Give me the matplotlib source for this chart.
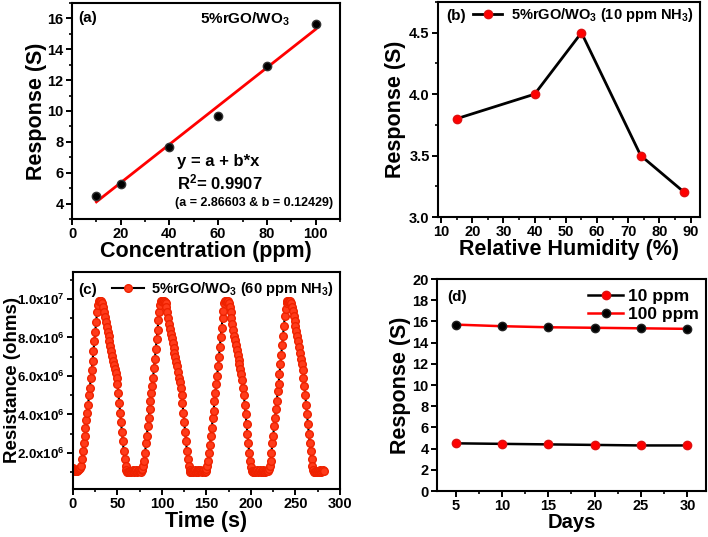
import numpy as np
import matplotlib
matplotlib.use('Agg')
import matplotlib.pyplot as plt
from matplotlib.ticker import MultipleLocator, FixedLocator, FixedFormatter

plt.rcParams['font.family'] = ['Liberation Sans', 'DejaVu Sans']
plt.rcParams['font.weight'] = 'bold'
plt.rcParams['axes.labelweight'] = 'bold'
plt.rcParams['mathtext.fontset'] = 'custom'
plt.rcParams['mathtext.rm'] = 'Liberation Sans:bold'
plt.rcParams['mathtext.it'] = 'Liberation Sans:bold'
plt.rcParams['mathtext.bf'] = 'Liberation Sans:bold'
plt.rcParams['mathtext.default'] = 'bf'

# (a) response vs concentration
conc = [10, 20, 40, 60, 80, 100]
resp_conc = [4.5, 5.3, 7.65, 9.7, 12.9, 15.65]
fit_a, fit_b = 2.86603, 0.12429

# (b) response vs relative humidity
rh = [15, 40, 55, 74, 88]
resp_rh = [3.8, 4.0, 4.5, 3.5, 3.2]

# (c) resistance transient, one sample per second (x1e6 ohms)
resist = [
    1.2, 1.1, 1.05, 1.05, 1.1, 1.05, 1.1, 1.15, 1.2, 1.35,
    1.7, 2.1, 2.5, 2.9, 3.3, 3.7, 4.1, 4.5, 5.0, 5.4,
    5.9, 6.3, 6.8, 7.3, 7.8, 8.3, 8.8, 9.3, 9.7, 9.9,
    9.9, 9.85, 9.9, 9.8, 9.6, 9.3, 9.05, 8.8, 8.55, 8.3,
    8.05, 7.8, 7.55, 7.3, 7.05, 6.8, 6.55, 6.35, 6.15, 5.9,
    5.6, 5.1, 4.6, 4.1, 3.6, 3.1, 2.6, 2.1, 1.7, 1.35,
    1.1, 1.0, 1.0, 1.0, 1.05, 1.0, 1.05, 1.1, 1.05, 1.0,
    1.05, 1.1, 1.0, 1.05, 1.1, 1.05, 1.0, 1.1, 1.15, 1.3,
    1.6, 2.0, 2.5, 2.9, 3.4, 3.8, 4.3, 4.7, 5.1, 5.5,
    5.9, 6.4, 6.9, 7.4, 7.9, 8.4, 8.9, 9.3, 9.7, 9.9,
    9.9, 9.85, 9.9, 9.85, 9.8, 9.6, 9.3, 9.0, 8.7, 8.45,
    8.2, 7.95, 7.7, 7.45, 7.2, 7.0, 6.75, 6.5, 6.2, 5.9,
    5.7, 5.4, 5.0, 4.6, 4.1, 3.6, 3.1, 2.6, 2.1, 1.7,
    1.35, 1.1, 1.0, 1.0, 1.05, 1.0, 1.05, 1.1, 1.0, 1.05,
    1.1, 1.0, 1.05, 1.1, 1.05, 1.0, 1.05, 1.1, 1.0, 1.05,
    1.15, 1.3, 1.6,
    2.0, 2.4, 2.9, 3.3, 3.8, 4.2, 4.7, 5.1, 5.6, 6.0,
    6.5, 7.0, 7.5, 8.0, 8.5, 9.0, 9.4, 9.8,
    9.9, 9.9, 9.85, 9.9, 9.8, 9.6,
    9.3, 9.0, 8.7, 8.4, 8.1, 7.85, 7.6, 7.35, 7.1, 6.85,
    6.6, 6.35, 6.1, 5.8, 5.4, 5.0, 4.5, 4.0, 3.5, 3.0,
    2.5, 2.0, 1.6, 1.25, 1.05, 1.0, 1.0,
    1.05, 1.0, 1.05, 1.1, 1.0, 1.05, 1.1, 1.0, 1.05, 1.0,
    1.1, 1.05, 1.0, 1.05, 1.1, 1.05, 1.15, 1.3,
    1.6, 2.0, 2.5, 2.9, 3.4, 3.8, 4.3, 4.7, 5.2, 5.6,
    6.1, 6.6, 7.1, 7.6, 8.1, 8.6, 9.1, 9.5, 9.8,
    9.9, 9.9, 9.85, 9.9, 9.8, 9.6,
    9.35, 9.1, 8.85, 8.6, 8.35, 8.1, 7.8, 7.5, 7.2, 6.9,
    6.6, 6.3, 5.9, 5.5, 5.0, 4.5, 4.0, 3.5, 3.0, 2.5,
    2.1, 1.7, 1.35, 1.1, 1.0, 1.0, 1.05,
    1.0, 1.05, 1.0, 1.1, 1.05, 1.0, 1.05, 1.1, 1.05,
]
c_ticks = [2e6, 4e6, 6e6, 8e6, 1e7]
c_ticklabels = [r'2.0x10$^6$', r'4.0x10$^6$', r'6.0x10$^6$', r'8.0x10$^6$', r'1.0x10$^7$']

# (d) stability over days
days = [5, 10, 15, 20, 25, 30]
resp_10ppm = [4.5, 4.45, 4.4, 4.35, 4.3, 4.3]
resp_100ppm = [15.7, 15.55, 15.45, 15.4, 15.35, 15.3]

fig = plt.figure(figsize=(7.08, 5.37), dpi=100)
ax1 = fig.add_axes([0.1017, 0.5922, 0.3785, 0.4022])
ax2 = fig.add_axes([0.6186, 0.5959, 0.3701, 0.4004])
ax3 = fig.add_axes([0.1031, 0.0894, 0.3771, 0.4041])
ax4 = fig.add_axes([0.6172, 0.0856, 0.3799, 0.3948])

lab_fs = 15.5
tick_fs = 10.5

for ax in [ax1, ax2, ax3, ax4]:
    for spine in ax.spines.values():
        spine.set_linewidth(1.5)
    ax.tick_params(which='major', direction='out', length=4, width=1.4, pad=2, labelsize=tick_fs)
    ax.tick_params(which='minor', direction='out', length=2.5, width=1.2)

# (a)
xfit = np.array([conc[0], conc[-1]])
ax1.plot(xfit, fit_a + fit_b * xfit, color='red', lw=2)
ax1.plot(conc, resp_conc, 'o', color='black', ms=6, mec='#333333')
ax1.set_xlim(0, 110)
ax1.set_ylim(3, 17)
ax1.xaxis.set_major_locator(MultipleLocator(20))
ax1.xaxis.set_minor_locator(MultipleLocator(10))
ax1.yaxis.set_major_locator(MultipleLocator(2))
ax1.yaxis.set_minor_locator(MultipleLocator(1))
ax1.set_xlabel('Concentration (ppm)', fontsize=lab_fs, labelpad=0)
ax1.set_ylabel('Response (S)', fontsize=lab_fs, labelpad=0)
ax1.text(0.025, 0.93, '(a)', transform=ax1.transAxes, fontsize=11, va='center')
ax1.text(0.478, 0.925, '5%rGO/WO$_3$', transform=ax1.transAxes, fontsize=11, va='center', ha='left')
ax1.text(0.39, 0.265, 'y = a + b*x', transform=ax1.transAxes, fontsize=12, va='center')
ax1.text(0.39, 0.17, 'R$^2$= 0.9907', transform=ax1.transAxes, fontsize=12, va='center')
ax1.text(0.385, 0.075, '(a = 2.86603 & b = 0.12429)', transform=ax1.transAxes, fontsize=9, va='center')

# (b)
ax2.plot(rh, resp_rh, '-o', color='black', lw=2, ms=6, mfc='red', mec='#dd1111',
         label='5%rGO/WO$_3$ (10 ppm NH$_3$)')
ax2.set_xlim(9, 93)
ax2.set_ylim(3.0, 4.75)
ax2.xaxis.set_major_locator(MultipleLocator(10))
ax2.xaxis.set_minor_locator(MultipleLocator(5))
ax2.yaxis.set_major_locator(MultipleLocator(0.5))
ax2.yaxis.set_minor_locator(MultipleLocator(0.25))
ax2.yaxis.set_major_formatter(matplotlib.ticker.FormatStrFormatter('%.1f'))
ax2.set_xlabel('Relative Humidity (%)', fontsize=lab_fs, labelpad=0)
ax2.set_ylabel('Response (S)', fontsize=lab_fs, labelpad=2)
ax2.text(0.03, 0.935, '(b)', transform=ax2.transAxes, fontsize=11, va='center')
ax2.legend(loc='upper right', bbox_to_anchor=(1.015, 1.03), frameon=False, fontsize=10.5,
           handlelength=2.0, handletextpad=0.6, borderaxespad=0.3)

# (c)
t = np.arange(len(resist))
ax3.plot(t, np.array(resist) * 1e6, '-o', color='black', lw=1.5, ms=5.5,
         mfc='#ff3b1a', mec='#ee2200', mew=1.0, label='5%rGO/WO$_3$ (60 ppm NH$_3$)')
ax3.set_xlim(0, 300)
ax3.set_ylim(0.13e6, 11.4e6)
ax3.xaxis.set_major_locator(MultipleLocator(50))
ax3.xaxis.set_minor_locator(MultipleLocator(25))
ax3.yaxis.set_major_locator(FixedLocator(c_ticks))
ax3.yaxis.set_major_formatter(FixedFormatter(c_ticklabels))
ax3.yaxis.set_minor_locator(MultipleLocator(1e6))
ax3.tick_params(axis='y', labelsize=9.5)
ax3.set_xlabel('Time (s)', fontsize=lab_fs, labelpad=0)
ax3.set_ylabel('Resistance (ohms)', fontsize=13.5)
ax3.yaxis.set_label_coords(-0.195, 0.5)
ax3.text(0.02, 0.915, '(c)', transform=ax3.transAxes, fontsize=11, va='center')
ax3.legend(loc='upper right', bbox_to_anchor=(1.015, 1.01), frameon=False, fontsize=10.5,
           handlelength=2.2, handletextpad=0.5, borderaxespad=0.3)

# (d)
ax4.plot(days, resp_10ppm, '-o', color='black', lw=1.8, ms=6, mfc='red', mec='#dd1111', label='10 ppm')
ax4.plot(days, resp_100ppm, '-o', color='red', lw=1.8, ms=6, mfc='black', mec='#222222', label='100 ppm')
ax4.set_xlim(3, 32)
ax4.set_ylim(0, 20)
ax4.xaxis.set_major_locator(MultipleLocator(5))
ax4.xaxis.set_minor_locator(MultipleLocator(2.5))
ax4.yaxis.set_major_locator(MultipleLocator(2))
ax4.set_xlabel('Days', fontsize=14.5, labelpad=0)
ax4.set_ylabel('Response (S)', fontsize=lab_fs, labelpad=1)
ax4.text(0.037, 0.915, '(d)', transform=ax4.transAxes, fontsize=11, va='center')
ax4.legend(loc='upper right', bbox_to_anchor=(1.02, 1.01), frameon=False, fontsize=12.5,
           handlelength=2.0, handletextpad=0.3, labelspacing=0.15, borderaxespad=0.3)

for ax in [ax1, ax2, ax3, ax4]:
    for label in ax.get_xticklabels() + ax.get_yticklabels():
        label.set_fontweight('bold')

fig.savefig('out.png', dpi=100)
